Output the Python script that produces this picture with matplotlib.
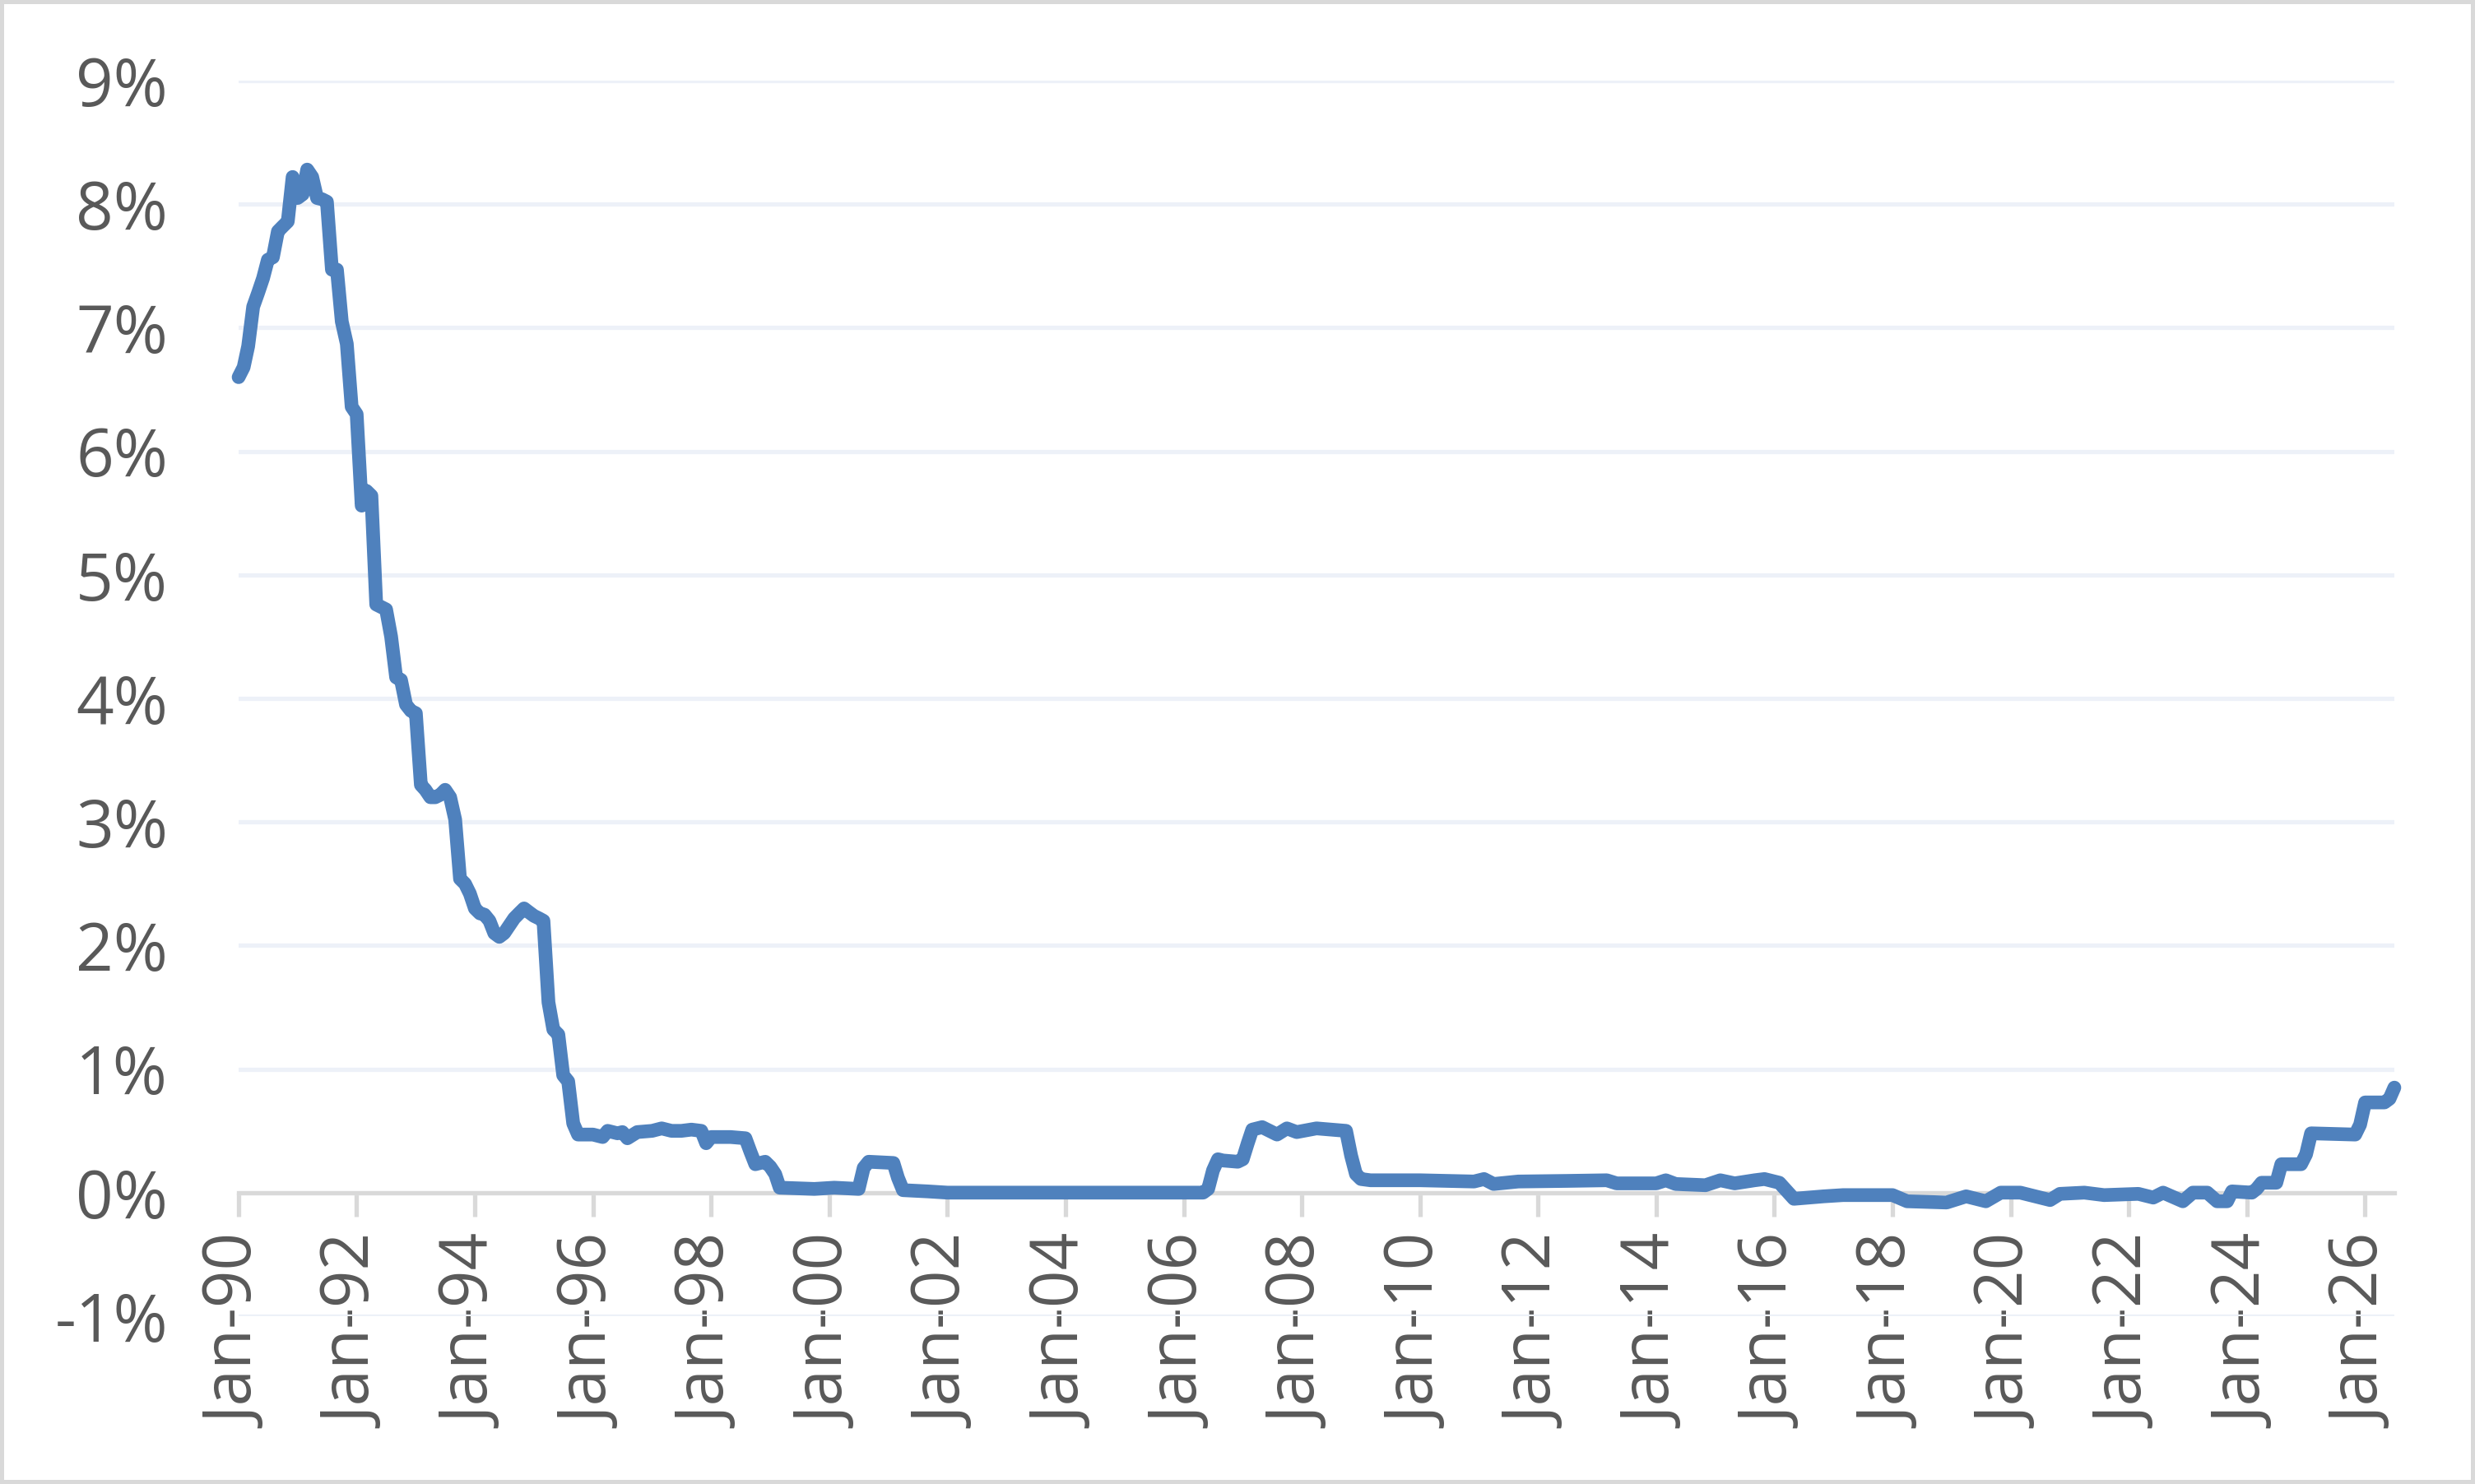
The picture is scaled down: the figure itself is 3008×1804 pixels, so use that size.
import matplotlib
matplotlib.use("Agg")
import matplotlib.pyplot as plt
import matplotlib.dates as mdates
from matplotlib.ticker import FixedLocator, FuncFormatter
from matplotlib.patches import Rectangle
import pandas as pd

# Monthly rate readings (%), sparse where the series is flat
months = [
    "1990-01", "1990-02", "1990-03", "1990-04", "1990-05", "1990-06", "1990-07", "1990-08",
    "1990-09", "1990-10", "1990-11", "1990-12", "1991-01", "1991-02", "1991-03", "1991-04",
    "1991-05", "1991-06", "1991-07", "1991-08", "1991-09", "1991-10", "1991-11", "1991-12",
    "1992-01", "1992-02", "1992-03", "1992-04", "1992-05", "1992-06", "1992-07", "1992-08",
    "1992-09", "1992-10", "1992-11", "1992-12", "1993-01", "1993-02", "1993-03", "1993-04",
    "1993-05", "1993-06", "1993-07", "1993-08", "1993-09", "1993-10", "1993-11", "1993-12",
    "1994-01", "1994-02", "1994-03", "1994-04", "1994-05", "1994-06", "1994-07", "1994-08",
    "1994-09", "1994-10", "1994-11", "1994-12", "1995-01", "1995-02", "1995-03", "1995-04",
    "1995-05", "1995-06", "1995-07", "1995-08", "1995-09", "1995-10",
    "1996-01", "1996-03", "1996-04", "1996-06", "1996-07", "1996-08", "1996-10",
    "1997-01", "1997-03", "1997-05", "1997-07", "1997-09", "1997-11", "1997-12",
    "1998-01", "1998-05", "1998-08", "1998-09", "1998-10", "1998-12",
    "1999-01", "1999-02", "1999-03", "1999-10", "2000-02", "2000-07", "2000-08", "2000-09",
    "2001-02", "2001-03", "2001-04", "2001-09", "2002-01",
    "2006-05", "2006-06", "2006-07", "2006-08", "2006-09", "2006-12",
    "2007-01", "2007-02", "2007-03", "2007-05", "2007-08", "2007-10", "2007-12",
    "2008-04", "2008-10", "2008-11", "2008-12", "2009-01", "2009-03",
    "2010-01", "2010-12", "2011-02", "2011-04", "2011-09", "2012-07",
    "2013-03", "2013-05", "2014-01", "2014-03", "2014-05", "2014-11",
    "2015-02", "2015-05", "2015-09", "2015-11", "2016-02", "2016-05", "2016-11",
    "2017-03", "2018-01", "2018-04", "2018-12", "2019-04", "2019-08", "2019-11",
    "2020-03", "2020-09", "2020-11", "2021-04", "2021-08", "2022-03", "2022-06",
    "2022-08", "2022-12", "2023-02", "2023-05", "2023-07", "2023-09", "2023-10",
    "2024-02", "2024-03", "2024-04", "2024-07", "2024-08", "2024-12",
    "2025-01", "2025-02", "2025-11", "2025-12", "2026-01", "2026-05", "2026-06", "2026-07",
]
rate = [
    6.60, 6.68, 6.85, 7.17, 7.28, 7.40, 7.55, 7.57,
    7.78, 7.82, 7.86, 8.22, 8.05, 8.08, 8.28, 8.22,
    8.05, 8.04, 8.02, 7.47, 7.47, 7.05, 6.87, 6.36,
    6.30, 5.56, 5.68, 5.64, 4.76, 4.74, 4.72, 4.50,
    4.17, 4.15, 3.95, 3.90, 3.88, 3.30, 3.26, 3.20,
    3.20, 3.22, 3.26, 3.20, 3.02, 2.54, 2.50, 2.42,
    2.30, 2.26, 2.25, 2.20, 2.10, 2.07, 2.10, 2.16,
    2.22, 2.26, 2.30, 2.27, 2.24, 2.22, 2.20, 1.54,
    1.32, 1.28, 0.95, 0.90, 0.56, 0.47,
    0.47, 0.45, 0.50, 0.48, 0.49, 0.44, 0.49,
    0.50, 0.52, 0.50, 0.50, 0.51, 0.50, 0.40,
    0.45, 0.45, 0.44, 0.33, 0.23, 0.25,
    0.21, 0.15, 0.04, 0.03, 0.04, 0.03, 0.20, 0.25,
    0.24, 0.12, 0.02, 0.01, 0.00,
    0.00, 0.03, 0.18, 0.27, 0.26, 0.25,
    0.27, 0.40, 0.51, 0.53, 0.47, 0.52, 0.49,
    0.52, 0.50, 0.30, 0.15, 0.11, 0.10,
    0.10, 0.09, 0.11, 0.07, 0.09, 0.095,
    0.10, 0.075, 0.075, 0.10, 0.07, 0.06,
    0.10, 0.075, 0.10, 0.11, 0.08, -0.05, -0.03,
    -0.02, -0.02, -0.07, -0.08, -0.03, -0.07, 0.00,
    0.00, -0.06, -0.01, 0.00, -0.02, -0.01, -0.04,
    0.00, -0.07, 0.00, 0.00, -0.07, -0.07, 0.01,
    0.00, 0.03, 0.08, 0.08, 0.23, 0.23,
    0.31, 0.48, 0.47, 0.55, 0.73, 0.73, 0.76, 0.85,
]
y_ticks = [-1, 0, 1, 2, 3, 4, 5, 6, 7, 8, 9]

dates = pd.to_datetime([m + "-01" for m in months])

W, H, DPI = 3008, 1804, 200
fig = plt.figure(figsize=(W / DPI, H / DPI), dpi=DPI)
fig.patch.set_facecolor("white")

left, right, top, bottom = 290, 2910, 98, 1600
ax = fig.add_axes([left / W, 1 - bottom / H, (right - left) / W, (bottom - top) / H])

text_color = "#595959"
font = "Open Sans"

ax.plot(dates, rate, color="#4F81BD", linewidth=6.0, solid_capstyle="round",
        solid_joinstyle="round", zorder=3, clip_on=False)

ax.set_xlim(dates.min(), dates.max())
ax.set_ylim(-1, 9)

ax.yaxis.set_major_locator(FixedLocator(y_ticks))
ax.yaxis.set_major_formatter(FuncFormatter(lambda v, p: f"{int(round(v))}%"))
ax.grid(axis="y", color="#EDF1F8", linewidth=1.9, zorder=0)
ax.set_axisbelow(True)

ax.xaxis.set_major_locator(mdates.YearLocator(2, month=1, day=1))
ax.xaxis.set_major_formatter(mdates.DateFormatter("%b-%y"))

for s in ["top", "right", "left"]:
    ax.spines[s].set_visible(False)
ax.spines["bottom"].set_position(("data", 0))
ax.spines["bottom"].set_color("#D9D9D9")
ax.spines["bottom"].set_linewidth(1.9)
ax.spines["bottom"].set_zorder(2.5)

ax.tick_params(axis="y", length=0, pad=31, labelsize=28.8, labelcolor=text_color)
ax.tick_params(axis="x", direction="out", length=10.4, width=1.9, color="#D9D9D9",
               pad=9, labelsize=28.8, labelcolor=text_color, labelrotation=90)
for lab in ax.get_xticklabels() + ax.get_yticklabels():
    lab.set_fontfamily(font)

fig.patches.append(Rectangle((0, 0), 1, 1, transform=fig.transFigure, fill=False,
                             edgecolor="#D9D9D9", linewidth=3.6, zorder=10))

fig.savefig("out.png", dpi=DPI, facecolor="white")
